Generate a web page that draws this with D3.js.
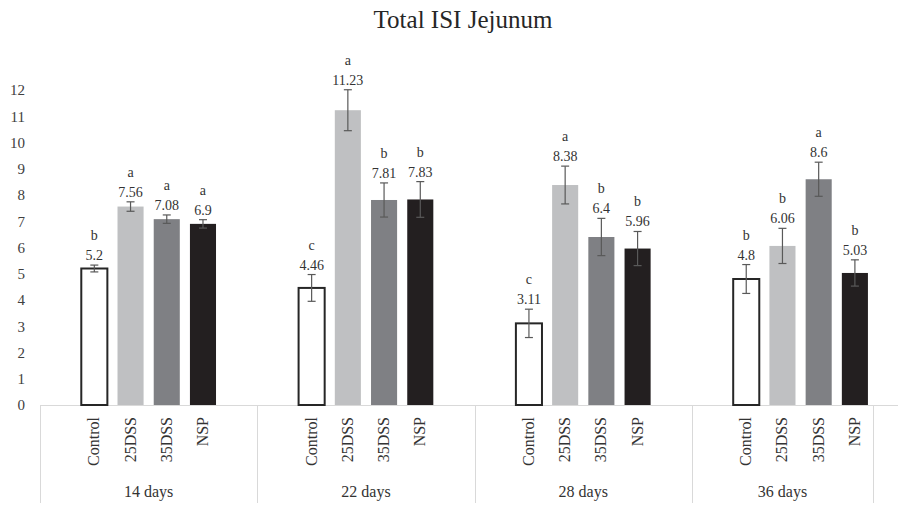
<!DOCTYPE html>
<html>
<head>
<meta charset="utf-8">
<script src="https://cdn.jsdelivr.net/npm/d3@7/dist/d3.min.js"></script>
<style>
  html, body { margin: 0; padding: 0; background: #fff; }
  svg { display: block; }
  text { font-family: "Liberation Serif", "Times New Roman", serif; fill: #333; }
</style>
</head>
<body>
<div id="chart"></div>
<script>
// Sampling days (outer category level) and treatments (inner level)
const days = ["14 days", "22 days", "28 days", "36 days"];
const treatments = ["Control", "25DSS", "35DSS", "NSP"];

// Mean total ISI per treatment, one value per sampling day
const controlMeans = [5.2, 4.46, 3.11, 4.8];
const dss25Means   = [7.56, 11.23, 8.38, 6.06];
const dss35Means   = [7.08, 7.81, 6.4, 8.6];
const nspMeans     = [6.9, 7.83, 5.96, 5.03];

// Standard errors
const controlErr = [0.13, 0.51, 0.54, 0.55];
const dss25Err   = [0.18, 0.78, 0.72, 0.67];
const dss35Err   = [0.16, 0.65, 0.71, 0.65];
const nspErr     = [0.16, 0.68, 0.65, 0.50];

// Significance letters
const controlSig = ["b", "c", "c", "b"];
const dss25Sig   = ["a", "a", "a", "b"];
const dss35Sig   = ["a", "b", "b", "a"];
const nspSig     = ["a", "b", "b", "b"];

const yTicks = [0, 1, 2, 3, 4, 5, 6, 7, 8, 9, 10, 11, 12];

const means = [controlMeans, dss25Means, dss35Means, nspMeans];
const errs = [controlErr, dss25Err, dss35Err, nspErr];
const sigs = [controlSig, dss25Sig, dss35Sig, nspSig];
const fills = ["#ffffff", "#bfc0c2", "#7f8084", "#231f20"];

// Each day occupies six category slots (blank, four bars, blank); the last day has five.
const slotsPerDay = [6, 6, 6, 5];
const slotStart = [];
let acc = 0;
slotsPerDay.forEach(n => { slotStart.push(acc); acc += n; });
const slotKeys = d3.range(acc);

const rows = [];
days.forEach((d, g) => {
  treatments.forEach((t, k) => {
    rows.push({
      day: d, treatment: t, k,
      slot: slotStart[g] + 1 + k,
      value: means[k][g], err: errs[k][g], sig: sigs[k][g]
    });
  });
});

const W = 898, H = 505;
const plotLeft = 40, plotRight = 873, plotBase = 405, plotTop = 90;

const svg = d3.select("#chart").append("svg")
  .attr("width", W).attr("height", H);

const x = d3.scaleBand().domain(slotKeys).range([plotLeft, plotRight])
  .paddingInner(0.28).paddingOuter(0.14);
const step = x.step();
const y = d3.scaleLinear().domain([0, 12]).range([plotBase, plotTop]);

// Title
svg.append("text")
  .attr("x", 463).attr("y", 28)
  .attr("text-anchor", "middle")
  .style("font-size", "25px")
  .style("fill", "#262626")
  .text("Total ISI Jejunum");

// Value axis (labels only)
const yAxis = svg.append("g")
  .attr("transform", `translate(${plotLeft},0)`)
  .call(d3.axisLeft(y).tickValues(yTicks).tickFormat(d3.format("d"))
    .tickSize(0).tickPadding(15));
yAxis.select(".domain").remove();
yAxis.selectAll("text")
  .style("font-size", "15px")
  .style("font-family", "'Liberation Serif', 'Times New Roman', serif")
  .style("fill", "#404040");

// Category axis baseline and day dividers
svg.append("line")
  .attr("x1", plotLeft).attr("x2", W)
  .attr("y1", plotBase + 0.5).attr("y2", plotBase + 0.5)
  .attr("stroke", "#d9d9d9").attr("stroke-width", 1);

const dividerX = slotStart.map(s => plotLeft + s * step).concat([plotLeft + acc * step]);
svg.selectAll("line.divider").data(dividerX).enter().append("line")
  .attr("class", "divider")
  .attr("x1", d => Math.round(d) + 0.5).attr("x2", d => Math.round(d) + 0.5)
  .attr("y1", plotBase).attr("y2", 503)
  .attr("stroke", "#d9d9d9").attr("stroke-width", 1);

// Bars
svg.selectAll("rect.bar").data(rows).enter().append("rect")
  .attr("class", "bar")
  .attr("x", d => x(d.slot))
  .attr("width", x.bandwidth())
  .attr("y", d => y(d.value))
  .attr("height", d => y(0) - y(d.value))
  .attr("fill", d => fills[d.k])
  .attr("stroke", d => d.k === 0 ? "#262626" : "none")
  .attr("stroke-width", 2);

// Error bars
const cx = d => x(d.slot) + x.bandwidth() / 2;
const eb = svg.append("g").attr("stroke", "#595959").attr("stroke-width", 1.2);
rows.forEach(d => {
  const y1 = y(d.value + d.err), y0 = y(d.value - d.err), c = cx(d);
  eb.append("line").attr("x1", c).attr("x2", c).attr("y1", y1).attr("y2", y0);
  eb.append("line").attr("x1", c - 4).attr("x2", c + 4).attr("y1", y1).attr("y2", y1);
  eb.append("line").attr("x1", c - 4).attr("x2", c + 4).attr("y1", y0).attr("y2", y0);
});

// Value labels and significance letters
svg.selectAll("text.val").data(rows).enter().append("text")
  .attr("class", "val")
  .attr("x", cx).attr("y", d => y(d.value + d.err) - 5)
  .attr("text-anchor", "middle")
  .style("font-size", "14px")
  .text(d => d.value);

svg.selectAll("text.sig").data(rows).enter().append("text")
  .attr("class", "sig")
  .attr("x", cx).attr("y", d => y(d.value + d.err) - 25)
  .attr("text-anchor", "middle")
  .style("font-size", "14px")
  .text(d => d.sig);

// Treatment labels (rotated)
svg.selectAll("text.cat").data(rows).enter().append("text")
  .attr("class", "cat")
  .attr("transform", d => `translate(${cx(d) + 5},417) rotate(-90)`)
  .attr("text-anchor", "end")
  .style("font-size", "16px")
  .text(d => d.treatment);

// Day labels
svg.selectAll("text.day").data(days).enter().append("text")
  .attr("class", "day")
  .attr("x", (d, g) => plotLeft + (slotStart[g] + slotsPerDay[g] / 2) * step)
  .attr("y", 497)
  .attr("text-anchor", "middle")
  .style("font-size", "16px")
  .text(d => d);
</script>
</body>
</html>
